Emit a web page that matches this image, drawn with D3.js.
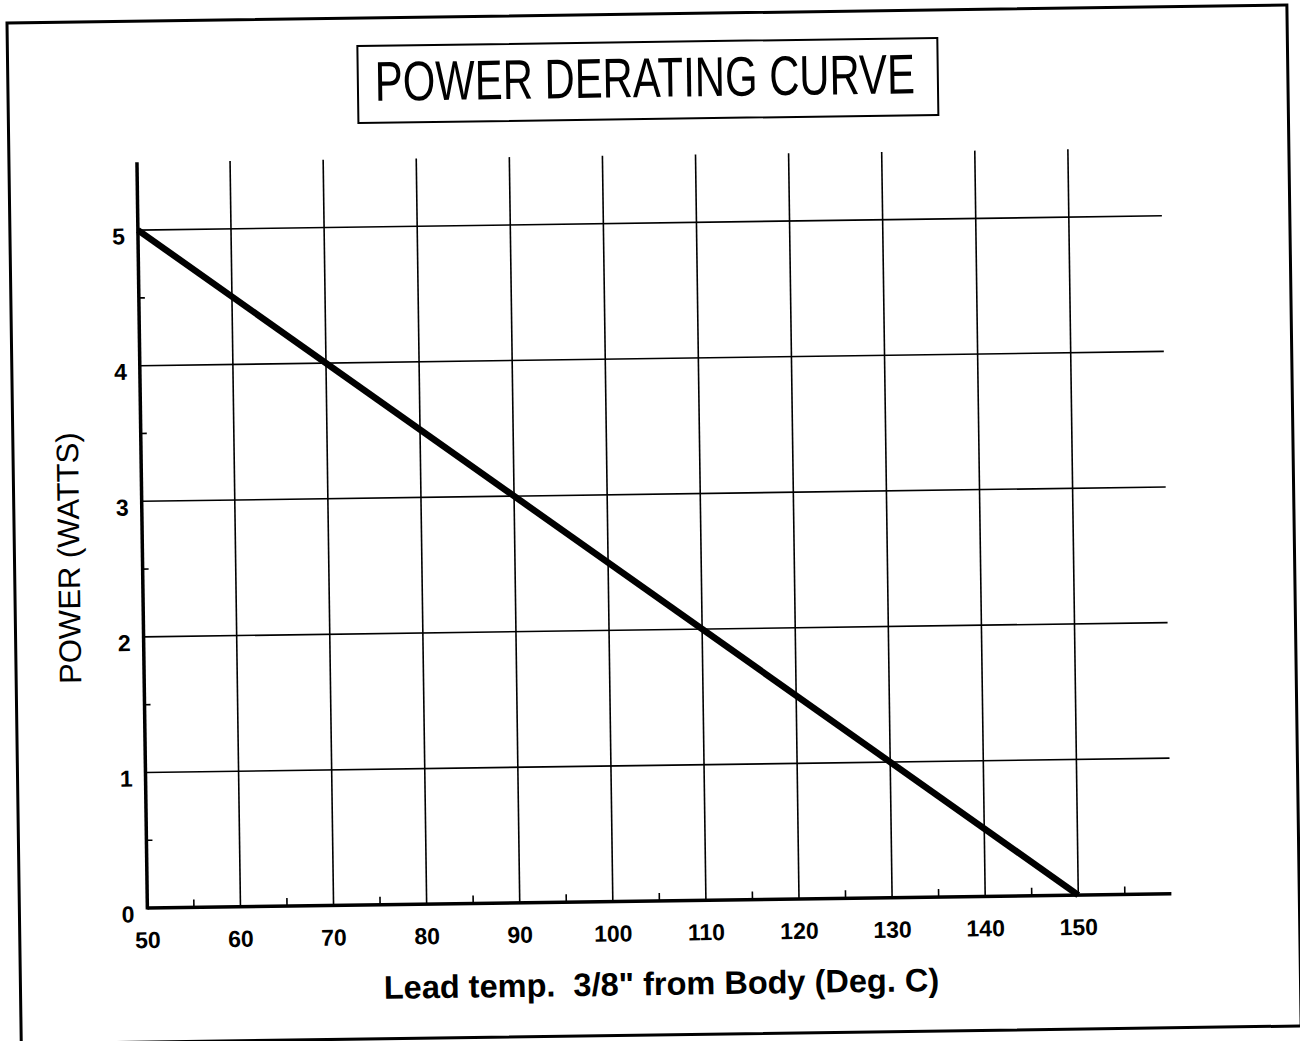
<!DOCTYPE html>
<html>
<head>
<meta charset="utf-8">
<script src="https://cdn.jsdelivr.net/npm/d3@7"></script>
<style>
  body { margin: 0; background: #fff; }
  text { font-family: Arial, "Liberation Sans", sans-serif; fill: #000; }
</style>
</head>
<body>
<div id="chart"></div>
<script>
// derating data: power (W) vs lead temperature (deg C)
var temps = [50, 150];
var watts = [5, 0];
var xTicks = [50, 60, 70, 80, 90, 100, 110, 120, 130, 140, 150];
var xMinor = [55, 65, 75, 85, 95, 105, 115, 125, 135, 145, 155];
var yTicks = [0, 1, 2, 3, 4, 5];
var yMinor = [0.5, 1.5, 2.5, 3.5, 4.5];
var title = "POWER DERATING CURVE";
var xLabel = "Lead temp.  3/8\" from Body (Deg. C)";
var yLabel = "POWER (WATTS)";

var width = 1300, height = 1041;

var x = d3.scaleLinear().domain([50, 150]).range([142, 1073]);
var y = d3.scaleLinear().domain([0, 5]).range([901, 223]);

var svg = d3.select("#chart").append("svg")
    .attr("width", width)
    .attr("height", height);

// the scanned sheet is slightly tilted
var g = svg.append("g")
    .attr("transform", "rotate(-0.8, 650, 520)");

// outer frame
g.append("rect")
    .attr("x", 14).attr("y", 14)
    .attr("width", 1280).attr("height", 1021)
    .attr("fill", "none")
    .attr("stroke", "#000")
    .attr("stroke-width", 3);

// title box
g.append("rect")
    .attr("x", 364).attr("y", 42)
    .attr("width", 580).attr("height", 77)
    .attr("fill", "none")
    .attr("stroke", "#000")
    .attr("stroke-width", 2);

g.append("text")
    .attr("x", 651).attr("y", 97)
    .attr("text-anchor", "middle")
    .attr("font-size", 56)
    .attr("textLength", 540)
    .attr("lengthAdjust", "spacingAndGlyphs")
    .text(title);

// horizontal grid lines
g.selectAll(".hgrid")
    .data(yTicks.slice(1))
    .enter().append("line")
    .attr("class", "hgrid")
    .attr("x1", x(50)).attr("x2", x(160))
    .attr("y1", function (d) { return y(d); })
    .attr("y2", function (d) { return y(d); })
    .attr("stroke", "#000")
    .attr("stroke-width", 1.6);

// vertical grid lines
g.selectAll(".vgrid")
    .data(xTicks.slice(1))
    .enter().append("line")
    .attr("class", "vgrid")
    .attr("x1", function (d) { return x(d); })
    .attr("x2", function (d) { return x(d); })
    .attr("y1", y(0)).attr("y2", y(5.5))
    .attr("stroke", "#000")
    .attr("stroke-width", 1.6);

// minor ticks
g.selectAll(".xminor")
    .data(xMinor)
    .enter().append("line")
    .attr("x1", function (d) { return x(d); })
    .attr("x2", function (d) { return x(d); })
    .attr("y1", y(0)).attr("y2", y(0) - 8)
    .attr("stroke", "#000")
    .attr("stroke-width", 1.6);

g.selectAll(".yminor")
    .data(yMinor)
    .enter().append("line")
    .attr("x1", x(50)).attr("x2", x(50) + 6)
    .attr("y1", function (d) { return y(d); })
    .attr("y2", function (d) { return y(d); })
    .attr("stroke", "#000")
    .attr("stroke-width", 1.6);

// axes lines
g.append("line")
    .attr("x1", x(50)).attr("x2", x(50))
    .attr("y1", y(0) + 1.5).attr("y2", y(5.5))
    .attr("stroke", "#000")
    .attr("stroke-width", 3.5);

g.append("line")
    .attr("x1", x(50)).attr("x2", x(160))
    .attr("y1", y(0)).attr("y2", y(0))
    .attr("stroke", "#000")
    .attr("stroke-width", 3.5);

// tick labels
g.selectAll(".xlab")
    .data(xTicks)
    .enter().append("text")
    .attr("x", function (d) { return x(d); })
    .attr("y", y(0) + 40)
    .attr("text-anchor", "middle")
    .attr("font-size", 23)
    .attr("font-weight", "bold")
    .text(function (d) { return d; });

g.selectAll(".ylab")
    .data(yTicks)
    .enter().append("text")
    .attr("x", x(50) - 13)
    .attr("y", function (d) { return y(d) + 14; })
    .attr("text-anchor", "end")
    .attr("font-size", 23)
    .attr("font-weight", "bold")
    .text(function (d) { return d; });

// the derating curve
var line = d3.line()
    .x(function (d) { return x(d[0]); })
    .y(function (d) { return y(d[1]); });

g.append("path")
    .datum(d3.zip(temps, watts))
    .attr("d", line)
    .attr("fill", "none")
    .attr("stroke", "#000")
    .attr("stroke-width", 6.5);

// axis titles
g.append("text")
    .attr("x", 655).attr("y", 995)
    .attr("text-anchor", "middle")
    .attr("font-size", 32.5)
    .attr("font-weight", "bold")
    .style("white-space", "pre")
    .text(xLabel);

g.append("text")
    .attr("transform", "translate(79,550) rotate(-90)")
    .attr("text-anchor", "middle")
    .attr("font-size", 31)
    .text(yLabel);
</script>
</body>
</html>
